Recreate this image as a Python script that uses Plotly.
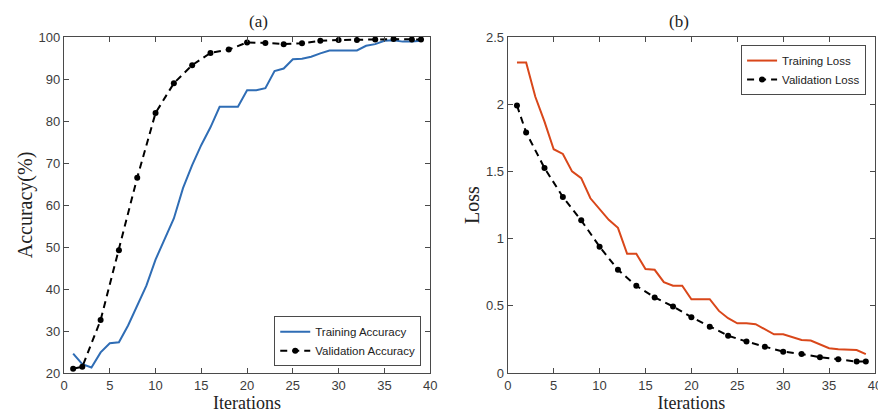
import plotly.graph_objects as go
from plotly.subplots import make_subplots

iters = list(range(1, 40))
train_acc = [24.6, 22.1, 21.3, 24.9, 27.1, 27.3, 31.3, 36.0, 40.8, 47.0, 51.9, 56.8,
             64.0, 69.5, 74.3, 78.5, 83.4, 83.4, 83.4, 87.3, 87.3, 87.8, 91.9, 92.5,
             94.7, 94.8, 95.3, 96.1, 96.8, 96.8, 96.8, 96.8, 97.9, 98.3, 99.1, 99.2,
             98.9, 98.9, 99.1]
val_iters = [1, 2, 4, 6, 8, 10, 12, 14, 16, 18, 20, 22, 24, 26, 28, 30, 32, 34, 36, 38, 39]
val_acc = [21.0, 21.5, 32.6, 49.2, 66.5, 81.9, 89.0, 93.3, 96.2, 97.0, 98.7, 98.6,
           98.3, 98.5, 99.1, 99.3, 99.3, 99.4, 99.5, 99.4, 99.4]
train_loss = [2.31, 2.31, 2.055, 1.87, 1.665, 1.63, 1.50, 1.45, 1.30, 1.22, 1.14, 1.08,
              0.887, 0.887, 0.773, 0.768, 0.676, 0.649, 0.649, 0.549, 0.549, 0.549,
              0.462, 0.408, 0.37, 0.37, 0.363, 0.326, 0.288, 0.288, 0.266, 0.246,
              0.241, 0.214, 0.184, 0.176, 0.176, 0.171, 0.14]
val_loss = [1.99, 1.79, 1.525, 1.31, 1.136, 0.94, 0.768, 0.649, 0.562, 0.495, 0.415,
            0.345, 0.278, 0.234, 0.196, 0.159, 0.142, 0.117, 0.102, 0.085, 0.085]

BLUE = "#2f6db5"
RED = "#d9471a"
AX = "#4a4a4a"
TICKF = dict(family="Liberation Sans, Arial, sans-serif", size=13, color="#3c3c3c")
SERIF = "Liberation Serif, Times New Roman, serif"

fig = make_subplots(rows=1, cols=2)

fig.add_trace(go.Scatter(x=iters, y=train_acc, mode="lines", name="Training Accuracy",
                         line=dict(color=BLUE, width=2), legend="legend"), row=1, col=1)
fig.add_trace(go.Scatter(x=val_iters, y=val_acc, mode="lines+markers", name="Validation Accuracy",
                         line=dict(color="black", width=2, dash="7px,5px"),
                         marker=dict(color="black", size=6), legend="legend"), row=1, col=1)
fig.add_trace(go.Scatter(x=iters, y=train_loss, mode="lines", name="Training Loss",
                         line=dict(color=RED, width=2), legend="legend2"), row=1, col=2)
fig.add_trace(go.Scatter(x=val_iters, y=val_loss, mode="lines+markers", name="Validation Loss",
                         line=dict(color="black", width=2, dash="7px,5px"),
                         marker=dict(color="black", size=6), legend="legend2"), row=1, col=2)

axcommon = dict(showline=True, linecolor=AX, linewidth=1.3, mirror="ticks", ticks="inside",
                ticklen=5, tickcolor=AX, showgrid=False, zeroline=False, tickfont=TICKF)

xt = dict(text="Iterations", font=dict(family=SERIF, size=18, color="#222"), standoff=2)
fig.update_xaxes(domain=[0, 0.4515], range=[0, 40], tickvals=list(range(0, 41, 5)),
                 title=xt, row=1, col=1, **axcommon)
fig.update_xaxes(domain=[0.5472, 1], range=[0, 40], tickvals=list(range(0, 41, 5)),
                 title=xt, row=1, col=2, **axcommon)
fig.update_yaxes(range=[20, 100], tickvals=list(range(20, 101, 10)),
                 title=dict(text="Accuracy(%)", font=dict(family=SERIF, size=20, color="#222"), standoff=0),
                 row=1, col=1, **axcommon)
fig.update_yaxes(range=[0, 2.5], tickvals=[0, 0.5, 1, 1.5, 2, 2.5],
                 title=dict(text="Loss", font=dict(family=SERIF, size=20, color="#222"), standoff=0),
                 row=1, col=2, **axcommon)

legfont = dict(family="Liberation Sans, Arial, sans-serif", size=11.5, color="#222")
fig.update_layout(
    width=886, height=413,
    margin=dict(l=56, r=15, t=29, b=48),
    plot_bgcolor="white", paper_bgcolor="white",
    legend=dict(x=0.4405, y=0.02, xanchor="right", yanchor="bottom", bgcolor="white",
                bordercolor=AX, borderwidth=1, font=legfont, tracegroupgap=0,
                itemwidth=30),
    legend2=dict(x=0.989, y=0.976, xanchor="right", yanchor="top", bgcolor="white",
                 bordercolor=AX, borderwidth=1, font=legfont, tracegroupgap=0,
                 itemwidth=30),
    annotations=[
        dict(text="(a)", x=0.4515 / 2, y=1.045, xref="paper", yref="paper", showarrow=False,
             font=dict(family=SERIF, size=17, color="#222"), yanchor="middle"),
        dict(text="(b)", x=(0.5472 + 1) / 2, y=1.045, xref="paper", yref="paper", showarrow=False,
             font=dict(family=SERIF, size=17, color="#222"), yanchor="middle"),
    ],
)

fig.write_html("out.html")
